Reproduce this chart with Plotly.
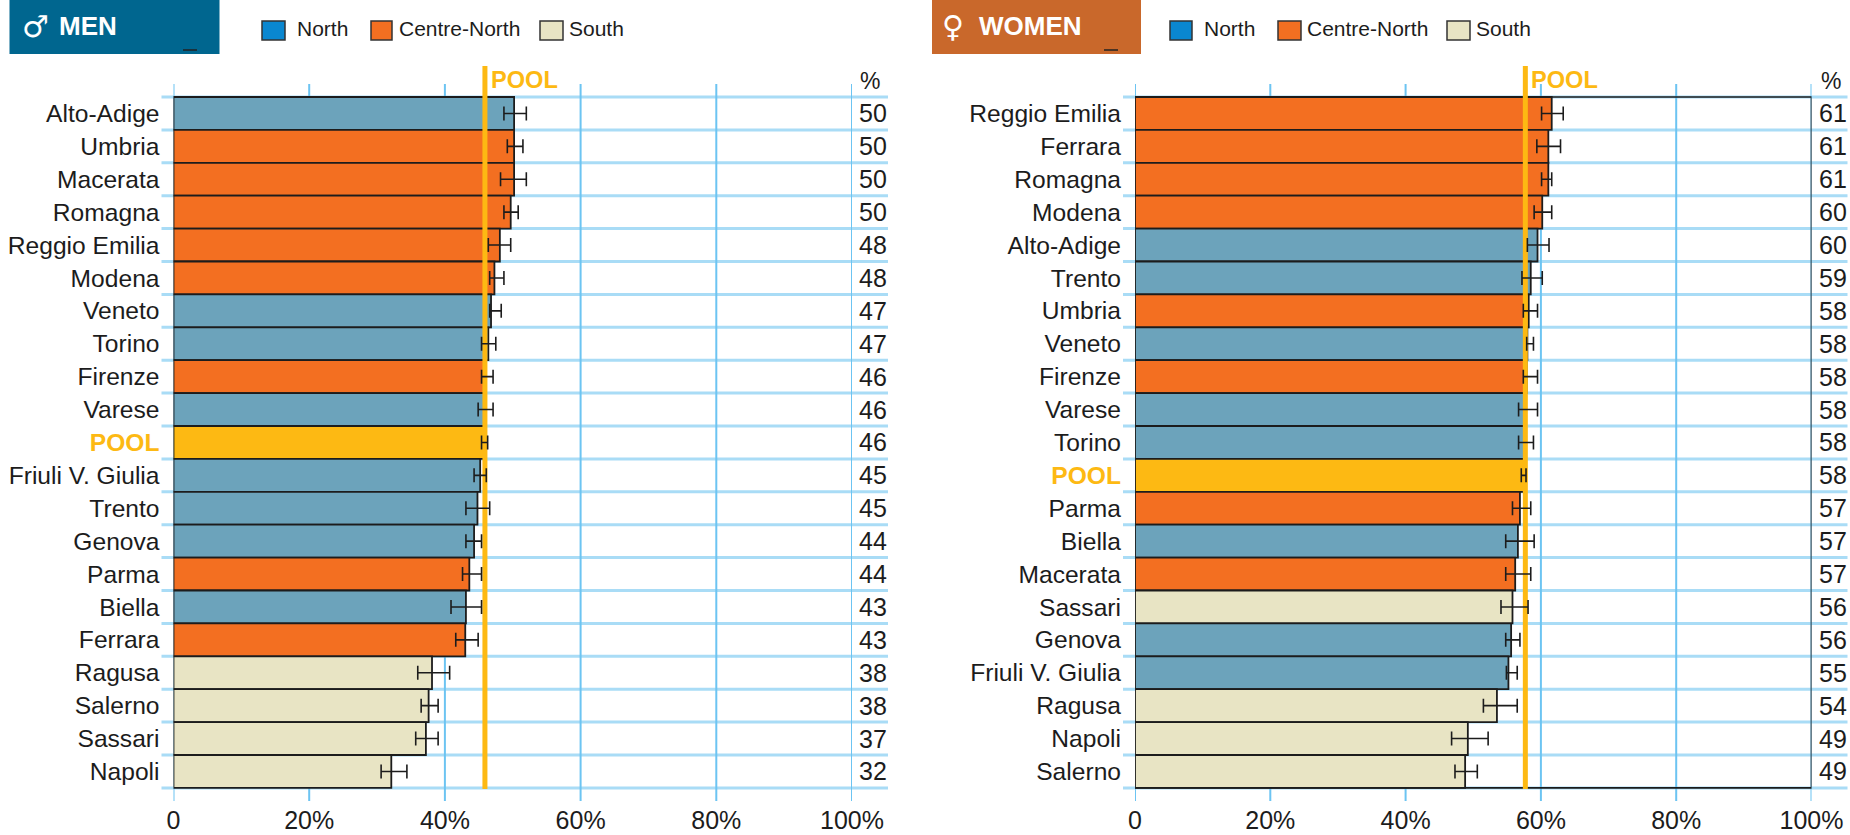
import plotly.graph_objects as go

W, H = 1850, 835
men_names = ["Alto-Adige","Umbria","Macerata","Romagna","Reggio Emilia","Modena","Veneto","Torino","Firenze","Varese","POOL","Friuli V. Giulia","Trento","Genova","Parma","Biella","Ferrara","Ragusa","Salerno","Sassari","Napoli"]
men_values = [50.2,50.2,50.2,49.7,48.1,47.3,46.8,46.4,46.0,45.8,45.9,45.2,44.8,44.3,43.6,43.1,43.0,38.1,37.6,37.2,32.1]
men_low = [48.7,49.2,48.2,48.7,46.4,46.6,46.6,45.4,45.4,44.9,45.4,44.3,43.1,43.1,42.6,40.9,41.6,36.0,36.5,35.7,30.6]
men_high = [52.0,51.5,52.0,50.8,49.7,48.7,48.3,47.5,47.1,47.1,46.3,46.1,46.6,45.4,45.4,45.4,44.9,40.7,39.0,39.0,34.4]
men_labels = ["50","50","50","50","48","48","47","47","46","46","46","45","45","44","44","43","43","38","38","37","32"]
men_regions = ["N","C","C","C","C","C","N","N","C","N","P","N","N","N","C","N","C","S","S","S","S"]

women_names = ["Reggio Emilia","Ferrara","Romagna","Modena","Alto-Adige","Trento","Umbria","Veneto","Firenze","Varese","Torino","POOL","Parma","Biella","Macerata","Sassari","Genova","Friuli V. Giulia","Ragusa","Napoli","Salerno"]
women_values = [61.6,61.1,61.1,60.2,59.5,58.5,58.2,58.0,57.9,57.8,57.6,57.7,56.9,56.6,56.2,55.8,55.6,55.2,53.5,49.2,48.8]
women_low = [60.1,59.4,60.1,59.0,58.0,57.2,57.4,57.9,57.4,56.7,56.7,57.1,55.8,54.8,54.8,54.1,54.8,54.9,51.5,46.8,47.3]
women_high = [63.3,62.9,61.6,61.6,61.2,60.2,59.5,58.9,59.5,59.5,58.9,57.8,58.5,59.0,58.5,58.1,56.9,56.5,56.5,52.2,50.6]
women_labels = ["61","61","61","60","60","59","58","58","58","58","58","58","57","57","57","56","56","55","54","49","49"]
women_regions = ["C","C","C","C","N","N","C","N","C","N","N","P","C","N","C","S","N","N","S","S","S"]

x_ticks = [0,20,40,60,80,100]
x_ticktext = ["0","20%","40%","60%","80%","100%"]

BAR_COLORS = {"N":"#6ca3bb","C":"#f36f21","S":"#e8e4c4","P":"#fdb913"}
LEGEND_ITEMS = [("North","#0a87d0"),("Centre-North","#f36f21"),("South","#e8e4c4")]
GOLD = "#fdb913"
INK = "#1c1c1c"
FONT = "Liberation Sans"
TOP, ROW = 97.0, 32.9
PLOT_TOP, PLOT_BOTTOM = 60.0, 828.0

def px_to_row(py):
    return (py - TOP) / ROW - 0.5

fig = go.Figure()
shapes, annos = [], []

def panel(n, names, values, low, high, labels, regions, x0px, x1px, boxed, pct_dx):
    suffix = "" if n == 1 else str(n)
    xr, yr = "x"+suffix, "y"+suffix
    idx = list(range(len(names)))
    fig.add_trace(go.Bar(x=values, y=idx, orientation="h", width=1, xaxis=xr, yaxis=yr,
        marker=dict(color=[BAR_COLORS[r] for r in regions], line=dict(color=INK, width=1.8)), showlegend=False))
    pool = values[names.index("POOL")]
    fig.add_trace(go.Scatter(x=[pool,pool], y=[px_to_row(66),px_to_row(789)], mode="lines", xaxis=xr, yaxis=yr,
        line=dict(color=GOLD, width=5), showlegend=False))
    fig.add_trace(go.Scatter(x=values, y=idx, mode="markers", marker=dict(size=1,opacity=0), xaxis=xr, yaxis=yr,
        error_x=dict(type="data", symmetric=False, array=[h-v for h,v in zip(high,values)],
                     arrayminus=[v-l for l,v in zip(low,values)], color=INK, thickness=1.6, width=7), showlegend=False))
    dom = [x0px/W, x1px/W]
    fig.update_layout({
        "xaxis"+suffix: dict(domain=dom, range=[0,100], anchor="free", position=1-801/H, showgrid=False, zeroline=False,
            showline=False, tickmode="array", tickvals=x_ticks, ticktext=x_ticktext, ticks="",
            tickfont=dict(family=FONT,size=25,color=INK), ticklabelstandoff=2),
        "yaxis"+suffix: dict(domain=[1-PLOT_BOTTOM/H,1-PLOT_TOP/H], range=[px_to_row(PLOT_BOTTOM),px_to_row(PLOT_TOP)],
            anchor=xr, showgrid=False, zeroline=False, showline=False, tickmode="array", tickvals=idx,
            ticktext=[f'<b><span style="color:{GOLD}">{t}</span></b>' if t=="POOL" else t for t in names], ticks="",
            tickfont=dict(family=FONT,size=24.6,color=INK), ticklabelstandoff=13),
    })
    for t in x_ticks:
        shapes.append(dict(type="line", xref=xr, yref=yr, x0=t, x1=t, y0=px_to_row(84), y1=px_to_row(801),
                           layer="below", line=dict(color="#6cc4f2", width=2)))
    for i in range(len(names)+1):
        shapes.append(dict(type="line", xref="paper", yref=yr, x0=(x0px-12)/W, x1=(x1px+36)/W, y0=i-0.5, y1=i-0.5,
                           layer="below", line=dict(color="#a9dcf6", width=3)))
    if boxed:
        shapes.append(dict(type="rect", xref=xr, yref=yr, x0=0, x1=100, y0=-0.5, y1=len(names)-0.5,
                           layer="below", line=dict(color=INK, width=1.6)))
    for i, lab in enumerate(labels):
        annos.append(dict(text=lab, xref="paper", yref=yr, x=(x1px+21)/W, y=i, showarrow=False, xanchor="center",
                          font=dict(family=FONT,size=25,color=INK)))
    annos.append(dict(text="%", xref="paper", yref=yr, x=(x1px+pct_dx)/W, y=px_to_row(81), showarrow=False,
                      xanchor="center", font=dict(family=FONT,size=23,color=INK)))
    annos.append(dict(text="<b>POOL</b>", xref=xr, yref=yr, x=pool, xshift=4, y=px_to_row(80), showarrow=False, xanchor="left",
                      font=dict(family=FONT,size=23.6,color=GOLD)))

def header(title, symbol, color, box, sym_x, title_x, dash_x, swatches, texts):
    shapes.append(dict(type="rect", xref="paper", yref="paper", x0=box[0]/W, x1=box[1]/W, y0=1-54/H, y1=1,
                       fillcolor=color, line=dict(width=0)))
    annos.append(dict(text=symbol, xref="paper", yref="paper", x=sym_x/W, y=1-26/H, showarrow=False, xanchor="center", yanchor="middle",
                      font=dict(family="DejaVu Sans",size=30,color="white")))
    annos.append(dict(text=f"<b>{title}</b>", xref="paper", yref="paper", x=title_x/W, y=1-26/H, showarrow=False, xanchor="left", yanchor="middle",
                      font=dict(family=FONT,size=26,color="white")))
    shapes.append(dict(type="line", xref="paper", yref="paper", x0=dash_x/W, x1=(dash_x+14)/W, y0=1-50/H, y1=1-50/H,
                       line=dict(color="#222222", width=1.5)))
    for (name,c),sw,tx in zip(LEGEND_ITEMS, swatches, texts):
        shapes.append(dict(type="rect", xref="paper", yref="paper", x0=sw[0]/W, x1=sw[1]/W, y0=1-40/H, y1=1-21/H,
                           fillcolor=c, line=dict(color="#333333", width=1.5)))
        annos.append(dict(text=name, xref="paper", yref="paper", x=tx/W, y=1-28/H, showarrow=False, xanchor="left", yanchor="middle",
                          font=dict(family=FONT,size=21,color=INK)))

panel(1, men_names, men_values, men_low, men_high, men_labels, men_regions, 173.5, 852, False, 18)
panel(2, women_names, women_values, women_low, women_high, women_labels, women_regions, 1135, 1811.5, True, 19)
header("MEN", "\u2642", "#00668f", (9.5,219.5), 35, 57, 183, [(262,285),(371,392),(540,563)], [295,397,567])
header("WOMEN", "\u2640", "#c9682b", (932,1141), 953, 977, 1104, [(1170,1192),(1278,1301),(1447,1470)], [1202,1305,1474])

fig.update_layout(width=W, height=H, margin=dict(l=0,r=0,t=0,b=0,autoexpand=False), paper_bgcolor="white", plot_bgcolor="white",
                  shapes=shapes, annotations=annos, showlegend=False, barmode="overlay")
fig.write_html("out.html", config=dict(displayModeBar=False), post_script="document.body.style.margin='0';window.dispatchEvent(new Event('resize'));")
